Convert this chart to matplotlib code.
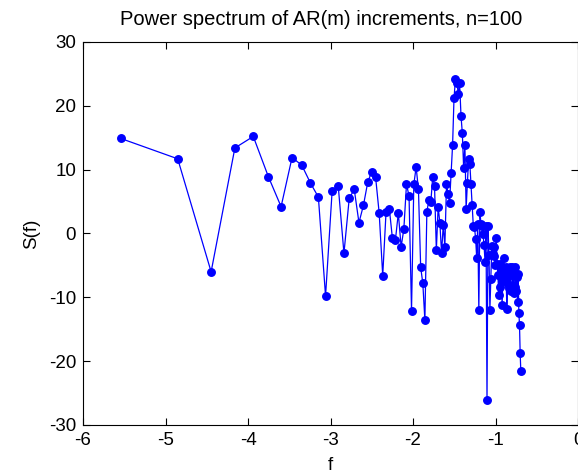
import matplotlib
matplotlib.use("Agg")
import matplotlib.pyplot as plt

plt.rcParams['font.family'] = ['Liberation Sans', 'DejaVu Sans']
plt.rcParams['axes.unicode_minus'] = False

# log frequency (x) and power spectrum values (y)
log_f = [-5.545, -4.852, -4.447, -4.159, -3.936, -3.753, -3.599, -3.466, -3.348, -3.243,
         -3.147, -3.060, -2.980, -2.906, -2.837, -2.773, -2.712, -2.655, -2.601, -2.549,
         -2.501, -2.454, -2.410, -2.367, -2.327, -2.287, -2.250, -2.213, -2.178, -2.144,
         -2.111, -2.079, -2.048, -2.018, -1.990, -1.962, -1.934, -1.907, -1.881, -1.856,
         -1.832, -1.808, -1.784, -1.761, -1.739, -1.717, -1.695, -1.674, -1.654, -1.633,
         -1.614, -1.594, -1.575, -1.557, -1.538, -1.520, -1.503, -1.485, -1.468, -1.451,
         -1.435, -1.418, -1.402, -1.386, -1.371, -1.356, -1.341, -1.326, -1.311, -1.297,
         -1.283, -1.269, -1.255, -1.241, -1.228, -1.215, -1.202, -1.189, -1.176, -1.163,
         -1.151, -1.139, -1.127, -1.115, -1.103, -1.091, -1.079, -1.068, -1.057, -1.045,
         -1.034, -1.023, -1.013, -1.002, -0.991, -0.981, -0.971, -0.960, -0.950, -0.940,
         -0.930, -0.920, -0.910, -0.901, -0.891, -0.882, -0.873, -0.863, -0.854, -0.845,
         -0.836, -0.827, -0.818, -0.809, -0.800, -0.791, -0.783, -0.774, -0.766, -0.758,
         -0.749, -0.741, -0.733, -0.725, -0.717, -0.709, -0.701, -0.693]

S = [14.9, 11.7, -6.0, 13.4, 15.2, 8.9, 4.2, 11.9, 10.7, 7.9,
     5.7, -9.8, 6.7, 7.4, -3.1, 5.5, 6.9, 1.7, 4.4, 8.0,
     9.7, 8.9, 3.2, -6.6, 3.3, 3.9, -0.7, -1.0, 3.2, -2.1,
     0.7, 7.7, 5.9, -12.1, 7.7, 10.4, 6.9, -5.3, -7.8, -13.6,
     3.4, 5.2, 4.9, 8.9, 7.4, -2.6, 4.2, 1.6, -3.1, 1.4,
     -2.1, 7.7, 6.2, 4.8, 9.4, 13.9, 21.2, 24.2, 23.6, 21.9,
     23.5, 18.4, 15.7, 10.2, 13.9, 3.9, 7.9, 11.7, 10.9, 7.7,
     4.5, 1.2, 1.0, -0.8, -3.8, 1.5, -12.0, 3.4, 1.5, 1.2,
     -0.1, -1.8, -4.4, 1.2, -26.1, 1.1, -3.3, -12.0, -7.1, -2.0,
     -3.2, -3.5, -2.1, -5.0, -0.7, -4.8, -6.5, -9.6, -4.8, -8.4,
     -5.8, -11.2, -7.0, -3.8, -6.3, -7.5, -5.2, -11.8, -7.9, -6.0,
     -8.5, -5.2, -9.0, -6.5, -5.3, -8.4, -6.3, -9.4, -8.4, -5.3,
     -9.0, -6.8, -10.7, -6.3, -12.4, -14.3, -18.8, -21.6]

xticks = [-6, -5, -4, -3, -2, -1, 0]
yticks = [-30, -20, -10, 0, 10, 20, 30]

fig = plt.figure(figsize=(5.78, 4.75), dpi=100)
ax = fig.add_axes([0.1436, 0.1053, 0.8564, 0.8063])

ax.plot(log_f, S, '-o', color='#0000ff', lw=0.9, markersize=5.4)

ax.set_xlim(-6, 0)
ax.set_ylim(-30, 30)
ax.set_xticks(xticks)
ax.set_yticks(yticks)
ax.tick_params(direction='in', length=5, width=0.8, top=True, right=True,
               labelsize=13.5, pad=5)
for s in ax.spines.values():
    s.set_linewidth(0.8)

ax.set_title('Power spectrum of AR(m) increments, n=100', fontsize=14.5, pad=12, x=0.482)
ax.set_xlabel('f', fontsize=13.5, labelpad=6)
ax.set_ylabel('S(f)', fontsize=13.5, labelpad=6)

fig.savefig('out.png', dpi=100)
